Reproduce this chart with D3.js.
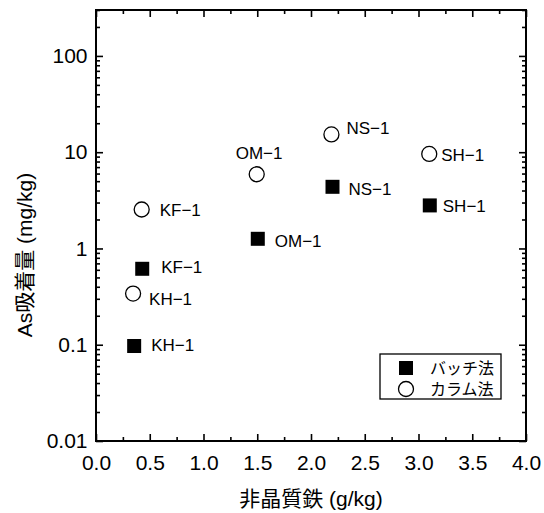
<!DOCTYPE html>
<html><head><meta charset="utf-8">
<script src="https://cdn.jsdelivr.net/npm/d3@7"></script>
<style>
body{margin:0;background:#fff}
svg{display:block}
text{font-family:"Liberation Sans",Arial,"Noto Sans CJK JP",sans-serif;fill:#000}
</style>
</head><body><svg id="c" width="544" height="513"></svg>
<script>
// ---- data ----
const samples   = ["KH-1","KF-1","OM-1","NS-1","SH-1"];
const batchX    = [0.355, 0.43, 1.505, 2.20, 3.105];
const batchY    = [0.097, 0.615, 1.26, 4.37, 2.8];
const columnX   = [0.345, 0.425, 1.495, 2.19, 3.10];
const columnY   = [0.34, 2.54, 5.9, 15.3, 9.6];
const seriesNames = ["バッチ法","カラム法"];
const xTicks = [0,0.5,1,1.5,2,2.5,3,3.5,4];
const xTickLabels = ["0.0","0.5","1.0","1.5","2.0","2.5","3.0","3.5","4.0"];
const yTicks = [0.01,0.1,1,10,100];
const yTickLabels = ["0.01","0.1","1","10","100"];
const xTitle = "非晶質鉄 (g/kg)";
const yTitle = "As吸着量 (mg/kg)";

// label offsets (text start / baseline relative to marker centre)
const batchLabelOff  = [[17,5],[19,4],[17,8],[16,8],[13,7]];
const columnLabelOff = [[16,11],[18,7],[-21,-15],[15,0],[12,7]];

// ---- layout ----
const L=96, T=10, R=526, B=441;
const svg = d3.select("#c");
const x = d3.scaleLinear().domain([0,4]).range([L,R]);
const y = d3.scaleLog().domain([0.01,300]).range([B,T]);

const xMinor = d3.range(0,4.001,0.25).filter(v=>Math.abs(v*2-Math.round(v*2))>1e-6);
const yMinor = [];
[0.01,0.1,1,10,100].forEach(d=>{for(let k=2;k<=9;k++){const v=d*k; if(v<=300.0001) yMinor.push(v);}});

function styleAxis(g){
  g.select(".domain").remove();
  g.selectAll(".tick line").attr("stroke","#000").attr("stroke-width",1.6);
}
// bottom
svg.append("g").attr("transform",`translate(0,${B})`)
  .call(d3.axisBottom(x).tickValues(xTicks).tickSize(-7).tickPadding(14)
        .tickFormat((d,i)=>xTickLabels[i]))
  .call(styleAxis)
  .call(g=>g.selectAll("text").attr("font-size",21).attr("font-family",null));
svg.append("g").attr("transform",`translate(0,${B})`)
  .call(d3.axisBottom(x).tickValues(xMinor).tickSize(-4).tickFormat(""))
  .call(styleAxis);
// top
svg.append("g").attr("transform",`translate(0,${T})`)
  .call(d3.axisTop(x).tickValues(xTicks).tickSize(-7).tickFormat(""))
  .call(styleAxis);
svg.append("g").attr("transform",`translate(0,${T})`)
  .call(d3.axisTop(x).tickValues(xMinor).tickSize(-4).tickFormat(""))
  .call(styleAxis);
// left
svg.append("g").attr("transform",`translate(${L},0)`)
  .call(d3.axisLeft(y).tickValues(yTicks).tickSize(-7).tickPadding(8.5)
        .tickFormat((d,i)=>yTickLabels[i]))
  .call(styleAxis)
  .call(g=>g.selectAll("text").attr("font-size",21).attr("font-family",null));
svg.append("g").attr("transform",`translate(${L},0)`)
  .call(d3.axisLeft(y).tickValues(yMinor).tickSize(-4).tickFormat(""))
  .call(styleAxis);
// right
svg.append("g").attr("transform",`translate(${R},0)`)
  .call(d3.axisRight(y).tickValues(yTicks).tickSize(-7).tickFormat(""))
  .call(styleAxis);
svg.append("g").attr("transform",`translate(${R},0)`)
  .call(d3.axisRight(y).tickValues(yMinor).tickSize(-4).tickFormat(""))
  .call(styleAxis);

// frame
svg.append("rect").attr("x",L).attr("y",T).attr("width",R-L).attr("height",B-T)
  .attr("fill","none").attr("stroke","#000").attr("stroke-width",2);

// titles
svg.append("text").attr("x",(L+R)/2).attr("y",506).attr("text-anchor","middle")
  .attr("font-size",21).text(xTitle);
svg.append("text").attr("transform",`translate(32,255) rotate(-90)`).attr("text-anchor","middle")
  .attr("font-size",21).text(yTitle);

// markers
const S=14, CR=7.5;
const batch = samples.map((s,i)=>({s,x:batchX[i],y:batchY[i],o:batchLabelOff[i]}));
const column = samples.map((s,i)=>({s,x:columnX[i],y:columnY[i],o:columnLabelOff[i]}));

svg.append("g").selectAll("rect").data(batch).join("rect")
  .attr("x",d=>x(d.x)-S/2).attr("y",d=>y(d.y)-S/2).attr("width",S).attr("height",S)
  .attr("fill","#000");
svg.append("g").selectAll("circle").data(column).join("circle")
  .attr("cx",d=>x(d.x)).attr("cy",d=>y(d.y)).attr("r",CR)
  .attr("fill","#fff").attr("stroke","#000").attr("stroke-width",1.3);

const lab = s=>s.replace("-","\u2212");
svg.append("g").selectAll("text").data(batch.concat(column)).join("text")
  .attr("x",d=>x(d.x)+d.o[0]).attr("y",d=>y(d.y)+d.o[1])
  .attr("font-size",17).text(d=>lab(d.s));

// legend
const lg = svg.append("g");
lg.append("rect").attr("x",380).attr("y",354).attr("width",121).attr("height",45)
  .attr("fill","#fff").attr("stroke","#000").attr("stroke-width",1.3);
lg.append("rect").attr("x",406-S/2).attr("y",368-S/2).attr("width",S).attr("height",S).attr("fill","#000");
lg.append("circle").attr("cx",406).attr("cy",389).attr("r",CR).attr("fill","#fff")
  .attr("stroke","#000").attr("stroke-width",1.3);
lg.append("text").attr("x",430).attr("y",374).attr("font-size",16).text(seriesNames[0]);
lg.append("text").attr("x",430).attr("y",395).attr("font-size",16).text(seriesNames[1]);
</script>
</body></html>
